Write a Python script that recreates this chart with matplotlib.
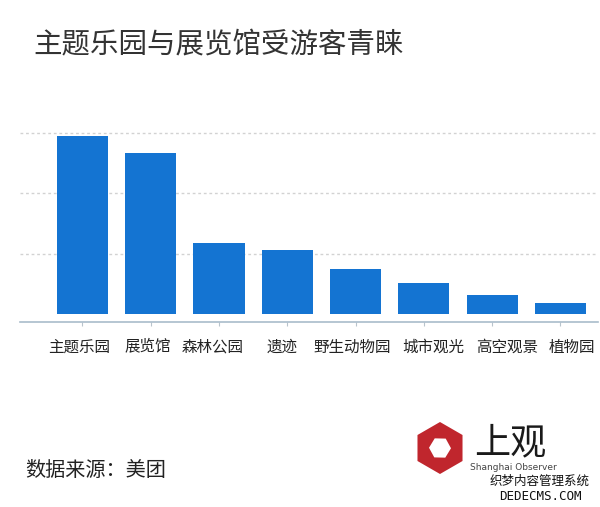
import matplotlib
matplotlib.use("Agg")
import matplotlib.pyplot as plt
import numpy as np
from matplotlib.patches import RegularPolygon
from matplotlib.transforms import ScaledTranslation

plt.rcParams['font.family'] = ['Noto Sans CJK SC', 'DejaVu Sans']

categories = ["主题乐园", "展览馆", "森林公园", "遗迹", "野生动物园", "城市观光", "高空观景", "植物园"]
values = [2.94, 2.66, 1.17, 1.06, 0.74, 0.51, 0.31, 0.19]
grid_levels = [1, 2, 3]

title = "主题乐园与展览馆受游客青睐"
source = "数据来源：美团"

# horizontal nudges (pixels) of the category labels, as in the original layout
label_nudge_px = [-3.5, -2.5, -6, -5, -3.5, 9.5, 14.5, 11]
label_center_row = 345  # target vertical centre of label ink, pixels from top

fig = plt.figure(figsize=(6, 5.07), dpi=100)
ax = fig.add_axes([20/600, 1-322/507, 578/600, (322-120)/507])

x = list(range(len(categories)))
ax.bar(x, values, width=0.75, color="#1474d2", zorder=3)
ax.set_xlim(-0.915, 7.55)
ax.set_ylim(-0.132, 3.2066)
ax.set_yticks(grid_levels)
ax.set_yticklabels([])
ax.tick_params(axis='y', length=0)
ax.grid(axis='y', linestyle=(0, (2, 2)), color='#d2d2d2', linewidth=1, zorder=0)
ax.set_xticks(x)
ax.set_xticklabels([])
ax.tick_params(axis='x', length=3, color='#b8c4cc')
labels = []
for xi, cat, dx in zip(x, categories, label_nudge_px):
    tr = ax.get_xaxis_transform() + ScaledTranslation(dx / 100, -29 / 100, fig.dpi_scale_trans)
    t = ax.text(xi, 0, cat, transform=tr, fontsize=11.2, color='#222222',
                ha='center', va='baseline', clip_on=False, family='Noto Sans CJK SC')
    labels.append(t)
for s in ['top', 'right', 'left']:
    ax.spines[s].set_visible(False)
ax.spines['bottom'].set_color('#a9bccb')
ax.spines['bottom'].set_linewidth(1.2)

fig.text(33/600, 1-45/507, title, fontsize=20.5, color='#333333', va='center', ha='left',
         family='Noto Sans CJK SC')
fig.text(25/600, 1-470/507, source, fontsize=14.5, color='#222222', va='center', ha='left',
         family='Noto Sans CJK SC')

# logo
fig.patches.append(RegularPolygon((440, 507-448), numVertices=6, radius=26, orientation=0,
                                  facecolor='#c0262d', edgecolor='none', transform=None))
fig.patches.append(RegularPolygon((440, 507-448), numVertices=6, radius=11, orientation=0.5,
                                  facecolor='white', edgecolor='none', transform=None))
fig.text(474/600, 1-443/507, "上观", fontsize=26, color='#1a1a1a', va='center', ha='left',
         family='Noto Sans CJK SC')
fig.text(470/600, 1-468/507, "Shanghai Observer", fontsize=6.5, color='#444444', va='center', ha='left',
         family='DejaVu Sans')
fig.text(540/600, 1-481/507, "织梦内容管理系统", fontsize=9, color='#111111', va='center', ha='center',
         family='Noto Sans CJK SC')
fig.text(540/600, 1-497/507, "DEDECMS.COM", fontsize=9, color='#111111', va='center', ha='center',
         family='DejaVu Sans Mono')

# align the category labels vertically by their rendered ink
fig.canvas.draw()
renderer = fig.canvas.get_renderer()
img = np.asarray(fig.canvas.buffer_rgba())[:, :, :3].astype(float).mean(axis=2)
H = img.shape[0]
for t in labels:
    bb = t.get_window_extent(renderer)
    c0, c1 = max(int(bb.x0) + 1, 0), min(int(bb.x1) - 1, img.shape[1])
    band = img[328:400, c0:c1]
    rows = np.where((band < 140).any(axis=1))[0]
    if len(rows):
        centre = 328 + (rows[0] + rows[-1]) / 2
        shift = centre - label_center_row
        t.set_transform(t.get_transform() + ScaledTranslation(0, shift / 100, fig.dpi_scale_trans))

fig.savefig("out.png", dpi=100)
